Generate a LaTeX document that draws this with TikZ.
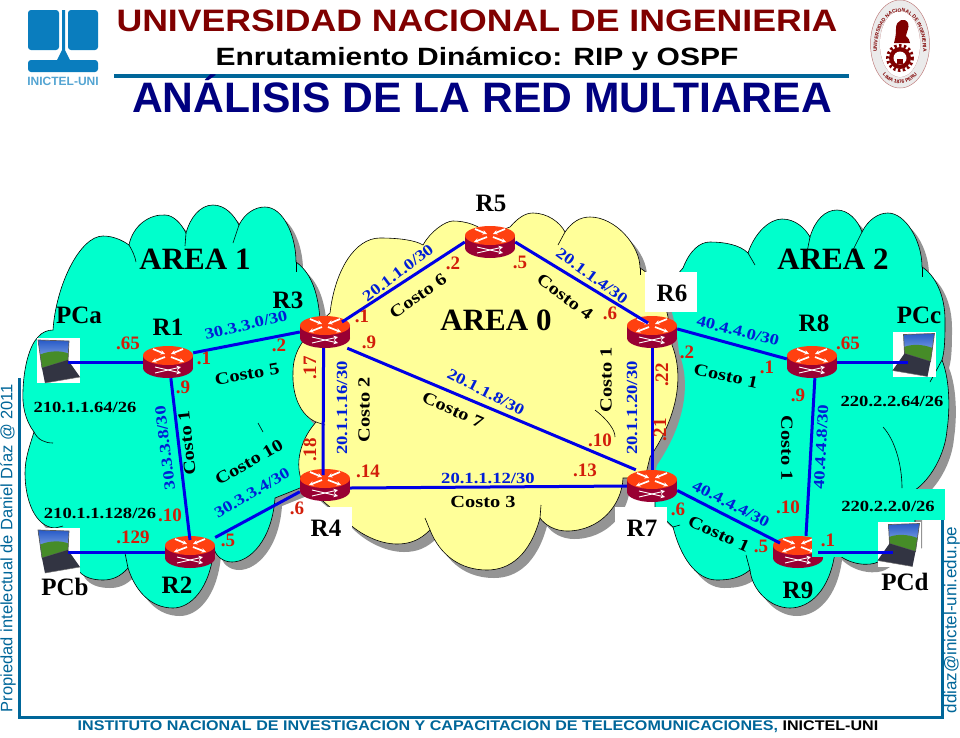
\documentclass[tikz,border=0pt]{standalone}
\usepackage{fontspec}
\setmainfont{Liberation Serif}
\newfontfamily\headfont{Liberation Sans}
\newfontfamily\wideheadfont[FakeStretch=1.15]{Liberation Sans}
\newfontfamily\widerheadfont[FakeStretch=1.2]{Liberation Sans}
\newfontfamily\ipfont[FakeStretch=1.2]{Liberation Serif}
\usetikzlibrary{arrows.meta,decorations.text}

\definecolor{teal1}{RGB}{0,255,204}
\definecolor{cream}{RGB}{255,255,153}
\definecolor{frameblue}{RGB}{0,102,153}
\definecolor{logoblue}{RGB}{10,125,190}
\definecolor{maroon1}{RGB}{128,0,0}
\definecolor{navy1}{RGB}{0,0,128}
\definecolor{routertop}{RGB}{255,64,16}
\definecolor{routerside}{RGB}{153,0,51}
\definecolor{linkblue}{RGB}{0,0,230}
\definecolor{ipblue}{RGB}{0,30,215}
\definecolor{ipred}{RGB}{210,30,10}
\definecolor{skytop}{RGB}{40,90,200}
\definecolor{skylow}{RGB}{170,200,240}
\definecolor{hill}{RGB}{70,140,40}
\definecolor{keyboard}{RGB}{50,52,66}

% outlines of the three clouds
\newcommand{\cloudone}{(38,337) .. controls (42,332) and (48,330) .. (53,330)
 .. controls (56,285) and (80,236) .. (103,236) .. controls (113,236) and (122,240) .. (129,245)
 .. controls (133,225) and (150,214) .. (165,215) .. controls (173,215) and (181,223) .. (186,233)
 .. controls (190,218) and (200,205) .. (213,205) .. controls (225,205) and (234,215) .. (239,225)
 .. controls (245,213) and (255,207) .. (265,207) .. controls (283,207) and (296,235) .. (296,262)
 .. controls (310,272) and (318,290) .. (320,320) -- (320,480) -- (275,498)
 .. controls (272,540) and (250,562) .. (232,562) .. controls (222,562) and (215,555) .. (214,548)
 .. controls (210,590) and (190,608) .. (173,608) .. controls (150,608) and (135,590) .. (128,568)
 .. controls (120,577) and (112,580) .. (103,580) .. controls (92,580) and (83,577) .. (78,570)
 -- (55,528) .. controls (35,527) and (25,500) .. (25,473) .. controls (25,458) and (30,445) .. (34,432)
 .. controls (25,420) and (22,405) .. (23,390) .. controls (24,365) and (30,345) .. (38,337) -- cycle}
\newcommand{\cloudtwo}{(683,268) .. controls (690,250) and (700,242) .. (710,242) .. controls (725,242) and (740,245) .. (748,253)
 .. controls (755,232) and (770,219) .. (782,219) .. controls (795,219) and (805,228) .. (810,237)
 .. controls (815,220) and (825,210) .. (837,210) .. controls (848,210) and (858,220) .. (862,232)
 .. controls (868,220) and (878,213) .. (888,213) .. controls (905,213) and (922,240) .. (922,267)
 .. controls (935,275) and (945,295) .. (945,320) .. controls (945,335) and (945,350) .. (942,360)
 .. controls (950,380) and (950,410) .. (947,430) .. controls (945,455) and (930,480) .. (915,490)
 -- (915,540) -- (878,562) .. controls (870,566) and (850,566) .. (835,552)
 .. controls (830,590) and (810,608) .. (790,608) .. controls (770,608) and (752,590) .. (750,570)
 .. controls (740,578) and (730,580) .. (717,580) .. controls (695,580) and (680,555) .. (673,527)
 -- (655,510) -- (655,300) -- cycle}
\newcommand{\cloudzero}{(303,484) .. controls (296,470) and (296,445) .. (316,422)
 .. controls (300,415) and (292,395) .. (293,372) .. controls (293,350) and (305,335) .. (330,313)
 .. controls (335,270) and (355,238) .. (380,238) .. controls (398,238) and (415,240) .. (423,245)
 .. controls (430,232) and (445,221) .. (453,221) .. controls (465,221) and (480,225) .. (488,235)
 -- (510,227) .. controls (518,218) and (525,213) .. (533,213) .. controls (547,213) and (560,222) .. (565,232)
 .. controls (572,222) and (580,217) .. (590,217) .. controls (615,217) and (640,245) .. (640,268)
 .. controls (660,280) and (668,305) .. (672,345) .. controls (682,370) and (682,410) .. (650,457)
 -- (645,478) -- (623,478) .. controls (622,505) and (600,531) .. (567,531) .. controls (555,531) and (545,525) .. (540,518)
 .. controls (530,555) and (510,570) .. (487,570) .. controls (460,570) and (440,555) .. (430,530)
 .. controls (420,540) and (410,544) .. (397,544) .. controls (380,544) and (360,535) .. (345,520) -- cycle}

% a router: the node carries the name, the scope draws the icon
\newcommand{\router}[2]{%
 \node[routerbox] (#1) at (#2) {};
 \begin{scope}[shift={(#2)}]
  \fill[routerside] (-25,-6) rectangle (25,6);
  \fill[routerside] (0,6) ellipse (25 and 10);
  \fill[routertop] (0,-6.5) ellipse (25 and 9.5);
  \draw[routerarrow] (-15,-13) -- (-3,-8);
  \draw[routerarrow] (15,-13) -- (3,-8);
  \draw[routerarrow] (-3,-5) -- (-16,0);
  \draw[routerarrow] (3,-5) -- (16,0);
  \draw[routerarrow,line width=.9pt] (-13,5) -- (13,11);
  \draw[routerarrow,line width=.9pt] (-13,11) -- (13,5);
 \end{scope}}
% a laptop on its white square, #3 = 1 screen left, -1 screen right
\newcommand{\laptop}[3]{%
 \node[laptopbox] (#1) at (#2) {};
 \begin{scope}[shift={(#2)},xscale=#3]
  \shade[top color=skytop,bottom color=skylow] (-20.5,-20.5) -- (10.5,-19.5) -- (9.5,-0.5) -- (-16.5,7.5) -- cycle;
  \fill[hill] (-18.5,-6) .. controls (-8,-10) and (2,-10) .. (10,-7) -- (9.5,-0.5) -- (-16.5,7.5) -- cycle;
  \draw[black!65,line width=.7pt] (-20.5,-20.5) -- (10.5,-19.5) -- (9.5,-0.5) -- (-16.5,7.5) -- cycle;
  \fill[keyboard] (-16.5,7.5) -- (9.5,-0.5) -- (21.5,16.5) -- (-13.5,22.5) -- cycle;
  \draw[black!55,line width=.5pt] (-13.5,22.5) -- (21.5,16.5);
 \end{scope}}

\begin{document}
\begin{tikzpicture}[x=1pt,y=-1pt,
cloudline/.style={draw=black,line width=.6pt},
cloudshadow/.style={fill=black!42},
crease/.style={draw=black,line width=.6pt},
routerbox/.style={rectangle,minimum width=50pt,minimum height=32pt,inner sep=0pt},
routerarrow/.style={draw=white,line width=1.7pt,-{Stealth[length=4.5pt,width=4.5pt]}},
laptopbox/.style={rectangle,fill=white,minimum width=43pt,minimum height=45pt,inner sep=0pt},
whitebox/.style={rectangle,fill=white,inner sep=0pt},
link/.style={draw=linkblue,line width=3pt},
arealabel/.style={font=\bfseries\fontsize{31}{31}\selectfont,inner sep=0pt},
namelabel/.style={font=\bfseries\fontsize{25}{25}\selectfont,inner sep=0pt},
net/.style={font=\ipfont\bfseries\fontsize{15.5}{15.5}\selectfont,text=ipblue,inner sep=0pt},
blacknet/.style={net,text=black},
cost/.style={font=\ipfont\bfseries\fontsize{17}{17}\selectfont,inner sep=0pt},
addr/.style={font=\bfseries\fontsize{19}{19}\selectfont,text=ipred,inner sep=0pt}]
\useasboundingbox (0,0) rectangle (960,737);

% header
\node[font=\wideheadfont\bfseries\fontsize{31}{31}\selectfont,text=maroon1,inner sep=0pt] (title) at (477,21) {UNIVERSIDAD NACIONAL DE INGENIERIA};
\node[font=\widerheadfont\bfseries\fontsize{25}{25}\selectfont,inner sep=0pt] (course) at (477,59) {Enrutamiento Dinámico: RIP y OSPF};
\draw[frameblue,line width=4pt] (114,76) -- (849,76);
\node[font=\headfont\bfseries\fontsize{42.6}{42.6}\selectfont,text=navy1,inner sep=0pt] (heading) at (482,94) {ANÁLISIS DE LA RED MULTIAREA};

% left logo
\fill[logoblue,rounded corners=3pt] (28,10) rectangle (59,50);
\fill[logoblue,rounded corners=3pt] (68,10) rectangle (98,50);
\fill[logoblue,rounded corners=3pt] (28,60) rectangle (98,72);
\fill[logoblue] (62,10) -- (65,10) -- (65,50) -- (70,60) -- (57,60) -- (62,50) -- cycle;
\node[font=\headfont\bfseries\fontsize{12}{12}\selectfont,text=logoblue!70,inner sep=0pt] (logotext) at (63,81) {INICTEL-UNI};

% right logo
\fill[black!8] (900,44) ellipse (29.5 and 44);
\draw[maroon1!50,line width=.5pt] (900,44) ellipse (29.5 and 44);
\draw[maroon1!50,line width=.4pt] (900,44) ellipse (20 and 33);
\fill[white] (900,44) ellipse (20 and 33);
\fill[maroon1] (900,58) circle (11);
\draw[maroon1,line width=3pt,dash pattern=on 2.4pt off 2.4pt] (900,58) circle (12.5);
\fill[white] (900,58) circle (6.5);
\fill[maroon1] (897,59) rectangle (903,64);
\fill[maroon1] (894,43) .. controls (896,36) and (896,32) .. (896,28) .. controls (896,20) and (905,17) .. (908,23)
 .. controls (910,27) and (906,33) .. (906,36) .. controls (908,38) and (910,40) .. (910,43) -- cycle;
\path[decorate,decoration={text along path,text align=center,
 text={|\headfont\bfseries\fontsize{5}{5}\selectfont\color{maroon1}|UNIVERSIDAD NACIONAL DE INGENIERIA}}]
 (878,66) .. controls (868,-6) and (932,-6) .. (922,66);
\path[decorate,decoration={text along path,text align=center,
 text={|\headfont\bfseries\fontsize{5}{5}\selectfont\color{maroon1}|LIMA 1876 PERU}}]
 (877,64) .. controls (885,90) and (915,90) .. (923,64);

% frame and side texts
\draw[frameblue,line width=3pt] (19,378) -- (19,717) -- (942,717) -- (942,520);
\node[font=\headfont\fontsize{16.5}{16.5}\selectfont,text=frameblue,rotate=90,inner sep=0pt] (rights) at (8,548) {Propiedad intelectual de Daniel Díaz @ 2011};
\node[font=\headfont\fontsize{17}{17}\selectfont,text=frameblue,rotate=90,inner sep=0pt] (mail) at (952,620) {ddiaz@inictel-uni.edu.pe};
\node[font=\wideheadfont\bfseries\fontsize{14}{14}\selectfont,text=frameblue,inner sep=0pt] (institute) at (478,727) {INSTITUTO NACIONAL DE INVESTIGACION Y CAPACITACION DE TELECOMUNICACIONES, \textcolor{black}{INICTEL-UNI}};

% clouds
\fill[cloudshadow,shift={(7,8)}] \cloudone;
\path[fill=teal1,cloudline] \cloudone;
\draw[crease] (129,245) .. controls (132,250) and (135,256) .. (136,262);
\draw[crease] (186,233) -- (185,246);
\draw[crease] (239,225) -- (233,243);
\draw[crease] (296,262) -- (296,272);
\draw[crease] (34,432) .. controls (38,440) and (45,443) .. (53,443);
\draw[crease] (55,528) -- (63,526);
\draw[crease] (128,568) -- (125,553);
\draw[crease] (258,423) -- (263,432);
\fill[cloudshadow,shift={(7,8)}] \cloudtwo;
\path[fill=teal1,cloudline] \cloudtwo;
\draw[crease] (748,253) -- (755,265);
\draw[crease] (810,237) -- (807,252);
\draw[crease] (862,232) -- (853,250);
\draw[crease] (922,267) -- (922,277);
\draw[crease] (942,360) -- (930,382);
\draw[crease] (883,427) .. controls (895,440) and (902,465) .. (902,488);
\draw[crease] (750,570) -- (746,555);
\draw[crease] (673,527) -- (680,525);
\fill[cloudshadow,shift={(7,8)}] \cloudzero;
\path[fill=cream,cloudline] \cloudzero;
\draw[crease] (316,422) -- (325,425);
\draw[crease] (565,232) -- (558,245);
\draw[crease] (640,268) -- (640,275);
\draw[crease] (595,410) .. controls (608,420) and (615,430) .. (615,437);
\draw[crease] (540,518) -- (541,505);
\draw[crease] (430,530) -- (425,518);

% white patches behind the names
\node[whitebox,minimum width=52pt,minimum height=40pt] (boxR6) at (671,292) {};
\node[whitebox,minimum width=52pt,minimum height=37pt] (boxR4) at (326,525) {};
\node[whitebox,minimum width=52pt,minimum height=37pt] (boxR7) at (641,525) {};

% hosts and routers
\laptop{PCa}{58.5,360.5}{1}
\laptop{PCb}{58.5,550.5}{1}
\laptop{PCc}{914,354}{-1}
\laptop{PCd}{899,544}{-1}
\router{R1}{168,362}
\router{R2}{190,552}
\router{R3}{325,332}
\router{R4}{325,485}
\router{R5}{490,242}
\router{R6}{652,332}
\router{R7}{652,486}
\router{R8}{812,362}
\router{R9}{798,552}

% links
\draw[link] ([xshift=9.5pt,yshift=-1.5pt]PCa.center) -- (R1.west);
\draw[link] ([xshift=9.5pt,yshift=-1.5pt]PCb.center) -- (R2.west);
\draw[link] (R1.20) -- (R3.west);
\draw[link] (R1.-80) -- ([yshift=12pt]R2.center);
\draw[link] (R2.30) -- (R4.195);
\draw[link] (R3.-95) -- ([xshift=-2pt,yshift=10pt]R4.center);
\draw[link] ([xshift=17pt,yshift=10pt]R3.center) -- (R5.west);
\draw[link] (R5.east) -- ([xshift=-4pt,yshift=9pt]R6.center);
\draw[link] (R3.-36) -- (R7.135);
\draw[link] ([yshift=-3pt]R4.east) -- (R7.west);
\draw[link] (R6.south) -- (R7.north);
\draw[link] (R6.7) -- (R8.173);
\draw[link] (R8.east) -- ([xshift=-6pt,yshift=-8pt]PCc.center);
\draw[link] (R8.-80) -- ([xshift=8pt]R9.north);
\draw[link] (R7.-10) -- ([xshift=-18pt,yshift=9pt]R9.center);

% teal patches over the R9 link and the last network
\node[rectangle,fill=teal1,minimum width=66pt,minimum height=20pt,inner sep=0pt] (boxR9) at (845,547) {};
\node[rectangle,fill=teal1,minimum width=110pt,minimum height=31pt,inner sep=0pt] (boxnet) at (890,504.5) {};
\coordinate (R9out) at (818,552);
\draw[link] (R9out) -- ([xshift=-6pt,yshift=-8pt]PCd.center);

% areas
\node[arealabel] (area1) at (195,259) {AREA 1};
\node[arealabel] (area0) at (496,320) {AREA 0};
\node[arealabel] (area2) at (833,259) {AREA 2};

% names
\node[namelabel] (nR1) at (168,327) {R1};
\node[namelabel] (nR2) at (177,585) {R2};
\node[namelabel] (nR3) at (288,300) {R3};
\node[namelabel] (nR4) at (326,528) {R4};
\node[namelabel] (nR5) at (491,203) {R5};
\node[namelabel] (nR6) at (672,293) {R6};
\node[namelabel] (nR7) at (642,528) {R7};
\node[namelabel] (nR8) at (814,323) {R8};
\node[namelabel] (nR9) at (798,590) {R9};
\node[namelabel] (nPCa) at (79,315) {PCa};
\node[namelabel] (nPCb) at (65,587) {PCb};
\node[namelabel] (nPCc) at (919,315) {PCc};
\node[namelabel] (nPCd) at (905,582) {PCd};

% networks
\node[blacknet] (net64) at (85,407) {210.1.1.64/26};
\node[blacknet] (net128) at (100,513) {210.1.1.128/26};
\node[blacknet] (net264) at (892,401) {220.2.2.64/26};
\node[blacknet] (net20) at (888,506) {220.2.2.0/26};
\node[net,rotate=13] (n30a) at (246,325) {30.3.3.0/30};
\node[net,rotate=97] (n30b) at (165,448) {30.3.3.8/30};
\node[net,rotate=30] (n30c) at (252,493) {30.3.3.4/30};
\node[net,rotate=37] (n20a) at (398,273) {20.1.1.0/30};
\node[net,rotate=-36] (n20b) at (592,276) {20.1.1.4/30};
\node[net,rotate=-27] (n20c) at (486,392) {20.1.1.8/30};
\node[net] (n20d) at (488,478) {20.1.1.12/30};
\node[net,rotate=90] (n20e) at (342,408) {20.1.1.16/30};
\node[net,rotate=90] (n20f) at (632,408) {20.1.1.20/30};
\node[net,rotate=-14] (n40a) at (738,331) {40.4.4.0/30};
\node[net,rotate=87] (n40b) at (821,447) {40.4.4.8/30};
\node[net,rotate=-27] (n40c) at (731,504) {40.4.4.4/30};

% costs
\node[cost,rotate=10] (c5) at (247,374) {Costo 5};
\node[cost,rotate=96] (c1a) at (187,443) {Costo 1};
\node[cost,rotate=30] (c10) at (249,462) {Costo 10};
\node[cost,rotate=35] (c6) at (418,296) {Costo 6};
\node[cost,rotate=-37] (c4) at (565,297) {Costo 4};
\node[cost,rotate=-24] (c7) at (453,410) {Costo 7};
\node[cost,rotate=90] (c2) at (364,410) {Costo 2};
\node[cost,rotate=90] (c1b) at (606,380) {Costo 1};
\node[cost] (c3) at (483,502) {Costo 3};
\node[cost,rotate=-12] (c1c) at (726,376) {Costo 1};
\node[cost,rotate=-90] (c1d) at (787,448) {Costo 1};
\node[cost,rotate=-24] (c1e) at (719,534) {Costo 1};

% addresses
\node[addr] (a65) at (128,343) {.65};
\node[addr] (a1) at (204,358) {.1};
\node[addr] (a9) at (183,387) {.9};
\node[addr] (a2) at (279,345) {.2};
\node[addr] (a129) at (133,537) {.129};
\node[addr] (a10) at (170,515) {.10};
\node[addr] (a5) at (228,540) {.5};
\node[addr] (a6) at (297,508) {.6};
\node[addr,rotate=90] (a17) at (310,368) {.17};
\node[addr,rotate=90] (a18) at (310,450) {.18};
\node[addr] (a1b) at (362,316) {.1};
\node[addr] (a9b) at (369,342) {.9};
\node[addr] (a2b) at (453,263) {.2};
\node[addr] (a5b) at (520,262) {.5};
\node[addr] (a6b) at (610,313) {.6};
\node[addr,rotate=90] (a22) at (662,375) {.22};
\node[addr,rotate=90] (a21) at (660,430) {.21};
\node[addr] (a10b) at (600,440) {.10};
\node[addr] (a13) at (585,470) {.13};
\node[addr] (a14) at (368,471) {.14};
\node[addr] (a2c) at (687,352) {.2};
\node[addr] (a1c) at (767,367) {.1};
\node[addr] (a65b) at (848,343) {.65};
\node[addr] (a9c) at (798,395) {.9};
\node[addr] (a10c) at (788,507) {.10};
\node[addr] (a6c) at (678,509) {.6};
\node[addr] (a5c) at (761,546) {.5};
\node[addr] (a1d) at (828,540) {.1};
\end{tikzpicture}
\end{document}
